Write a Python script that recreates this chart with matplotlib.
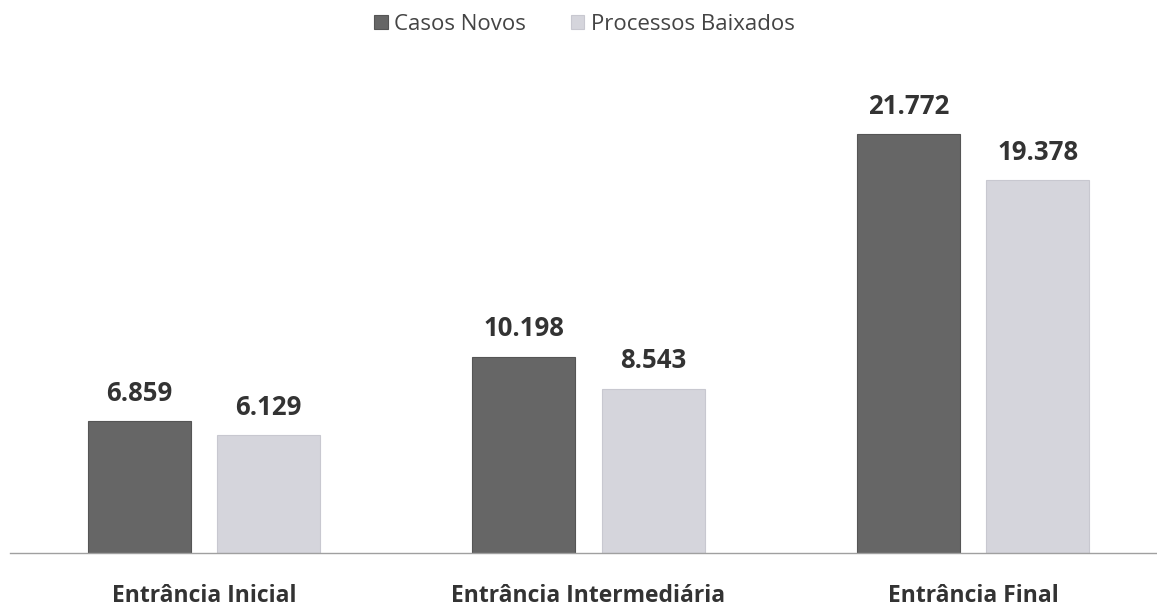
import numpy as np
from matplotlib import pyplot as plt

plt.rcParams['font.family'] = ['Open Sans', 'DejaVu Sans']

categorias = ['Entrância Inicial', 'Entrância Intermediária', 'Entrância Final']
casos_novos = [6859, 10198, 21772]
processos_baixados = [6129, 8543, 19378]
series = ['Casos Novos', 'Processos Baixados']

def fmt(v):
    return f'{v:,}'.replace(',', '.')

fig = plt.figure(figsize=(11.57, 6.07), dpi=100)
ax = fig.add_axes([10/1157, 54/607, 1147/1157, 493/607])

x = np.arange(len(categorias))
w = 0.268
off = 0.168
b1 = ax.bar(x - off, casos_novos, w, color='#666666', edgecolor='#555555', linewidth=0.8, label=series[0])
b2 = ax.bar(x + off, processos_baixados, w, color='#d5d5dc', edgecolor='#c8c8d0', linewidth=0.8, label=series[1])

for bars, vals in [(b1, casos_novos), (b2, processos_baixados)]:
    for r, v in zip(bars, vals):
        ax.text(r.get_x() + r.get_width()/2, v + 750, fmt(v), ha='center', va='bottom',
                fontsize=18.5, fontweight='bold', color='#333333')

ax.set_xlim(-0.5046, 2.4785)
ax.set_ylim(0, 25617)
ax.set_yticks([])
ax.set_xticks(x)
ax.set_xticklabels(categorias, fontsize=16.5, fontweight='bold', color='#333333')
ax.tick_params(axis='x', length=0, pad=22)
for s in ['top', 'right', 'left']:
    ax.spines[s].set_visible(False)
ax.spines['bottom'].set_color('#a0a0a0')
ax.spines['bottom'].set_linewidth(1.0)

leg = fig.legend(handles=[b1, b2], labels=series, loc='upper center', bbox_to_anchor=(0.505, 1.01),
                 ncol=2, frameon=False, fontsize=16, handlelength=0.6, handleheight=0.6,
                 handletextpad=0.3, columnspacing=2.0)
for t in leg.get_texts():
    t.set_color('#444444')

fig.savefig('out.png', dpi=100, facecolor='white')
